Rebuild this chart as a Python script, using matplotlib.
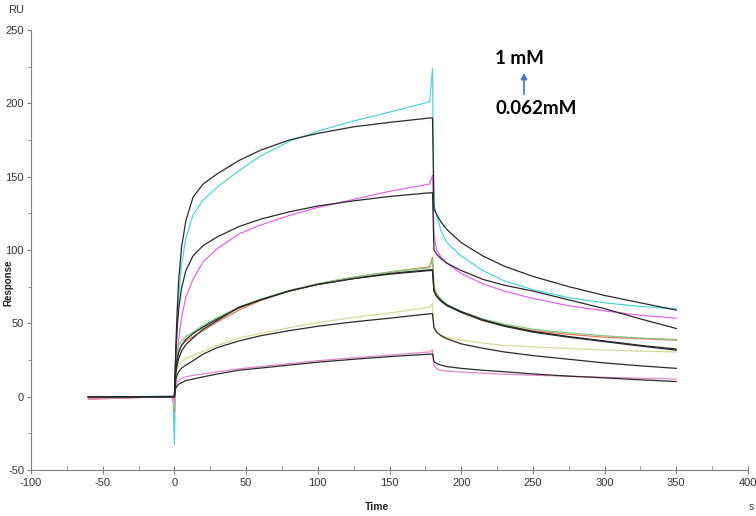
import matplotlib
matplotlib.use("Agg")
import matplotlib.pyplot as plt
from matplotlib.ticker import MultipleLocator

plt.rcParams["axes.unicode_minus"] = False

# sampled times (s) for measured curves and fitted curves
T_DATA = [-60, -30, -1, 0, 1, 2, 3, 5, 8, 13, 20, 30, 45, 60, 80, 100, 125, 150, 178,
          180, 181, 183, 186, 190, 200, 215, 230, 250, 275, 300, 325, 350]
T_FIT = [-60, 0, 1, 2, 3, 5, 8, 13, 20, 30, 45, 60, 80, 100, 125, 150, 178,
         180, 181, 183, 186, 190, 200, 215, 230, 250, 275, 300, 325, 350]

# measured responses (RU)
cyan = [-0.5, 0, 0.5, -33, 25, 50, 68, 90, 108, 124, 134, 143, 154, 164, 174, 181, 188, 194, 201,
        224, 132, 123, 113, 105, 96, 86, 79, 73, 67.5, 64, 61.5, 60]
magenta = [-1, -0.5, 0.3, -8, 12, 27, 39, 54, 68, 80, 92, 101, 111, 117, 123.5, 129, 134.5, 140, 145,
           151, 110, 100, 95, 91, 84, 77, 72, 67, 62, 58.5, 55.5, 53.5]
red = [-1.8, -0.8, 0, -10, 20, 27, 31, 35, 38, 41, 45, 51, 59, 65.5, 72, 77, 81.5, 85, 88.5,
       95, 75, 70, 66, 62.5, 57.5, 52, 48.5, 45, 42.5, 40.5, 39.5, 38.5]
green = [-1.2, -0.5, 0.2, -8, 26, 32, 35, 38, 41, 44, 48.5, 54, 61, 66.5, 72.5, 77, 81.5, 85, 88,
         93, 74, 70, 66.5, 63, 58, 53, 49.5, 46, 43.5, 41.5, 40, 39]
yellow = [-1, -0.4, 0.2, -6, 15, 19, 21.5, 24, 26, 28, 31, 35, 40, 43, 47, 50.5, 54, 57, 61,
          63.5, 47, 44, 42, 40.5, 38.5, 36.5, 35, 34, 32.8, 31.8, 31, 30.5]
pink = [-1.5, -0.6, 0.2, -5, 8, 10, 11, 12.5, 13.5, 14.5, 15.5, 17, 19, 20.5, 22.5, 24.5, 26.5, 28.3, 30.5,
        32, 21, 19, 18, 17.5, 16.8, 16, 15.3, 14.6, 13.9, 13.2, 12.6, 12]

# fitted curves (black)
fit1 = [0, 0, 35, 60, 80, 102, 120, 136, 145, 152, 161, 168, 175, 179.5, 184, 187, 190,
        190, 128, 124, 119, 114, 105, 96, 89, 82, 75, 69, 64, 59]
fit2 = [0, 0, 30, 48, 60, 74, 86, 96, 103, 109, 116, 121, 126, 130, 133.5, 136.5, 139,
        139, 100, 97, 94, 91, 86, 80, 76, 72, 66, 60, 53, 46.5]
fit3 = [0, 0, 17, 22, 26, 31, 35.5, 40, 46, 52, 61, 66, 72, 76.5, 80.5, 83.5, 86,
        86, 72, 68, 65, 62, 57.5, 52, 48, 44, 40.5, 37.5, 34.5, 31.7]
fit4 = [0, 0, 20, 26, 30, 35, 39, 43, 47.5, 53, 60.5, 66, 72, 76.5, 80.5, 84, 86.5,
        86.5, 72, 68.5, 65.5, 62.5, 58, 52.5, 48.5, 44.5, 41, 38, 35, 32.5]
fit5 = [0, 0, 12, 15, 17, 19.5, 21.5, 24.5, 29, 33.5, 38, 41.5, 45, 48, 51, 53.5, 56.5,
        56.5, 47, 44, 41.5, 39.5, 36, 33, 30.5, 28, 25.5, 23, 21, 19.3]
fit6 = [0, 0, 6, 7.5, 8.5, 9.5, 11, 12, 13.5, 15.5, 18, 19.5, 21.5, 23.5, 25.5, 27.3, 29,
        29, 24, 22.5, 21.5, 20.5, 19.3, 18, 17, 15.5, 14, 12.8, 11.5, 10.3]

data_series = [(cyan, "#55d2d2"), (magenta, "#e266e2"), (red, "#e07a5a"),
               (green, "#86c886"), (yellow, "#d9d99a"), (pink, "#e088c8")]
fits = [fit1, fit2, fit3, fit4, fit5, fit6]

tick_font = ["Liberation Sans Narrow", "Liberation Sans"]

fig = plt.figure(figsize=(7.56, 5.16), dpi=100)
ax = fig.add_axes([31/756, 1-470/516, (748-31)/756, (470-30)/516])

for vals, col in data_series:
    ax.plot(T_DATA, vals, color=col, lw=0.9)
for f in fits:
    ax.plot(T_FIT, f, color="#2a2a2a", lw=0.9)

ax.set_xlim(-100, 400)
ax.set_ylim(-50, 250)
ax.xaxis.set_major_locator(MultipleLocator(50))
ax.xaxis.set_minor_locator(MultipleLocator(25))
ax.yaxis.set_major_locator(MultipleLocator(50))
ax.yaxis.set_minor_locator(MultipleLocator(25))
for s in ["top", "right"]:
    ax.spines[s].set_visible(False)
for s in ["left", "bottom"]:
    ax.spines[s].set_color("#808080")
    ax.spines[s].set_linewidth(0.8)
ax.tick_params(axis="x", which="major", direction="inout", length=6, width=0.8,
               color="#808080", labelsize=8, labelcolor="#333333", pad=3)
ax.tick_params(axis="x", which="minor", direction="in", length=3, width=0.6, color="#808080")
ax.tick_params(axis="y", which="major", direction="out", length=3, width=0.8,
               color="#808080", labelsize=8, labelcolor="#333333", pad=2)
ax.tick_params(axis="y", which="minor", direction="out", length=2, width=0.6, color="#808080")
for lab in ax.get_xticklabels() + ax.get_yticklabels():
    lab.set_family(tick_font)

fig.text(8/756, 1-10/516, "RU", family=tick_font, fontsize=8, color="#333333", va="center")
fig.text(377/756, 1-507/516, "Time", family="Liberation Sans", fontweight="bold",
         fontsize=7.5, color="#222222", ha="center", va="center")
fig.text(751/756, 1-507/516, "s", family=tick_font, fontsize=7.5, color="#333333",
         ha="center", va="center")
fig.text(8/756, 1-283/516, "Response", family="Liberation Sans", fontweight="bold",
         fontsize=7, color="#222222", rotation=90, ha="center", va="center")

fig.text(495/756, 1-58/516, "1 mM", family="Lato", fontweight="bold", fontsize=13.5,
         color="black", ha="left", va="center")
fig.text(495/756, 1-109/516, "0.062mM", family="Lato", fontweight="bold", fontsize=13.5,
         color="black", ha="left", va="center")
ax.annotate("", xy=(524/756, 1-70/516), xytext=(524/756, 1-97/516),
            xycoords="figure fraction", textcoords="figure fraction",
            arrowprops=dict(arrowstyle="-|>", color="#4472c4", lw=1.2, mutation_scale=9))

fig.savefig("out.png", dpi=100)
